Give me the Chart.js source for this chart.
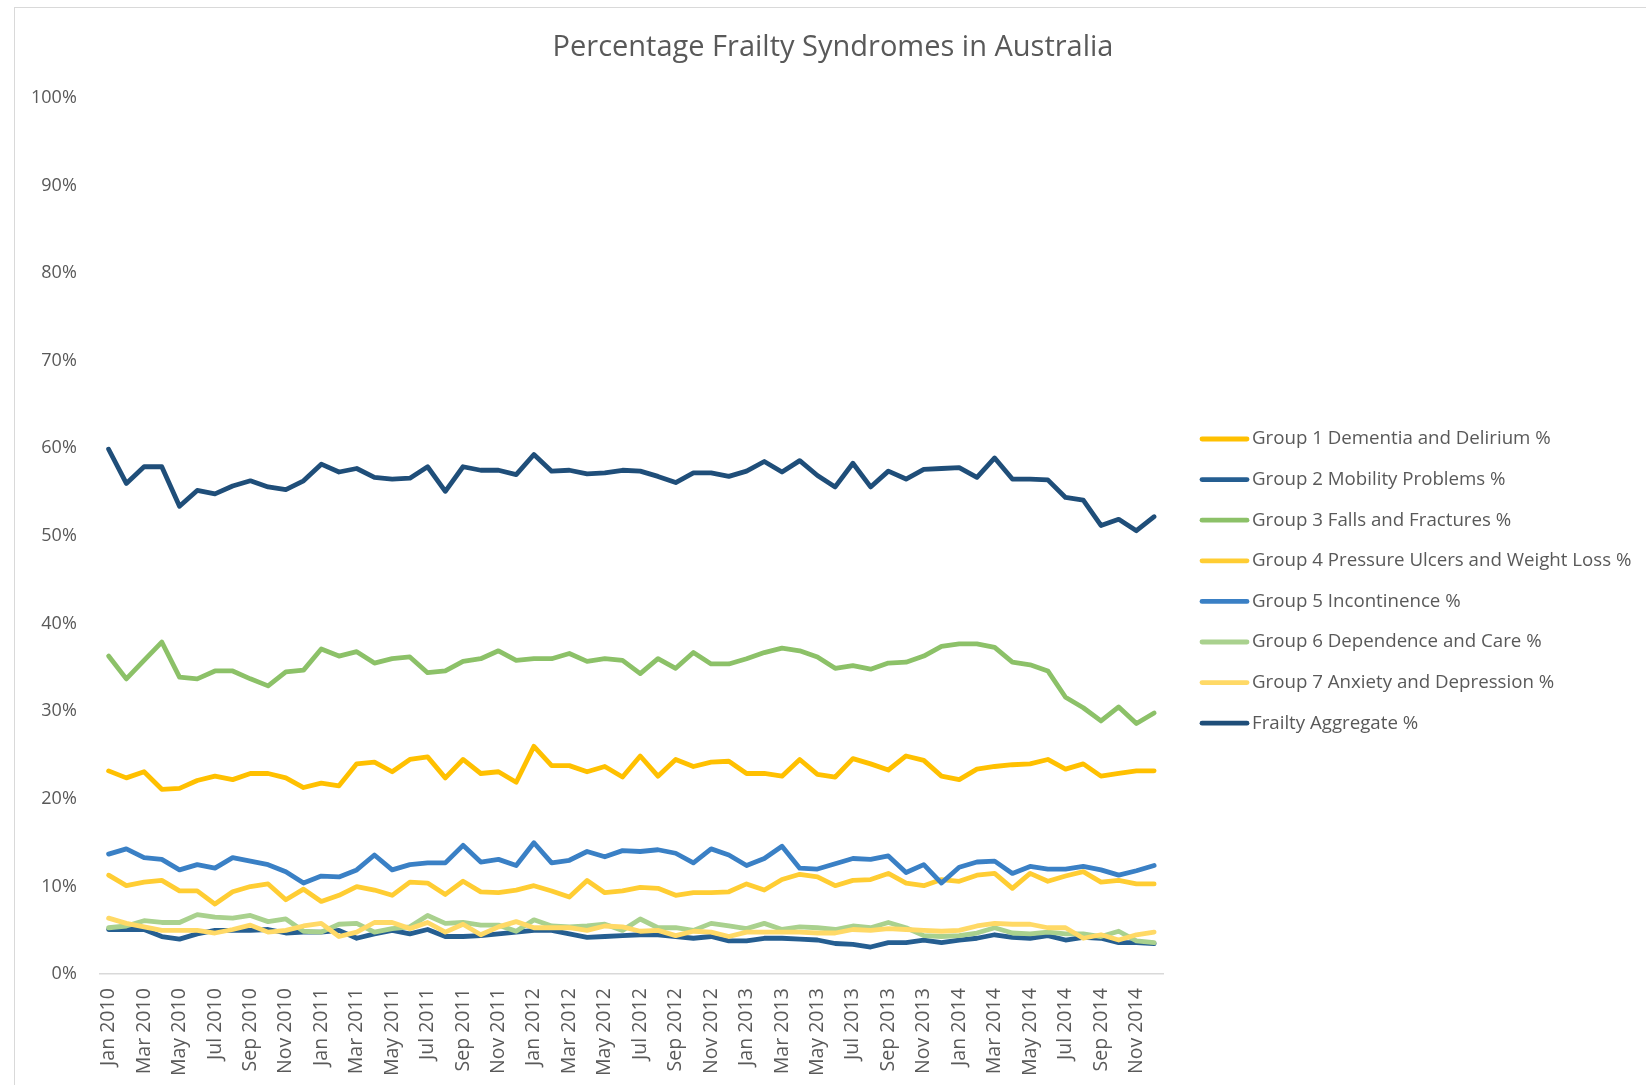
<!DOCTYPE html>
<html>
<head>
<meta charset="utf-8">
<title>Percentage Frailty Syndromes in Australia</title>
<script src="https://cdn.jsdelivr.net/npm/chart.js@4.4.1/dist/chart.umd.min.js"></script>
<style>
  html,body{margin:0;padding:0;background:#fff;overflow:hidden;}
  .frame{position:absolute;left:14px;top:7px;border-left:1px solid #d9d9d9;border-top:1px solid #d9d9d9;}
  canvas{display:block;}
</style>
</head>
<body>
<div class="frame"><canvas id="chart" width="1631" height="1077"></canvas></div>
<script>
/* monthly % of residents per frailty syndrome, Jan 2010 - Dec 2014 */
const MONTHS = ["Jan","Feb","Mar","Apr","May","Jun","Jul","Aug","Sep","Oct","Nov","Dec"];
const YEARS = [2010,2011,2012,2013,2014];
const labels = YEARS.flatMap(y => MONTHS.map(m => m+" "+y));

const yTicks = [0,10,20,30,40,50,60,70,80,90,100];

const group1 = [23.2,22.4,23.1,21.1,21.2,22.1,22.6,22.2,22.9,22.9,
                22.4,21.3,21.8,21.5,24.0,24.2,23.1,24.5,24.8,22.4,
                24.5,22.9,23.1,21.9,26.0,23.8,23.8,23.1,23.7,22.5,
                24.9,22.6,24.5,23.7,24.2,24.3,22.9,22.9,22.6,24.5,
                22.8,22.5,24.6,24.0,23.3,24.9,24.4,22.6,22.2,23.4,
                23.7,23.9,24.0,24.5,23.4,24.0,22.6,22.9,23.2,23.2];
const group2 = [5.1,5.1,5.1,4.3,4.0,4.6,5.0,5.0,5.0,5.1,
                4.7,4.8,4.8,5.0,4.1,4.6,5.0,4.6,5.1,4.3,
                4.3,4.4,4.6,4.8,5.0,5.0,4.6,4.2,4.3,4.4,
                4.5,4.5,4.3,4.1,4.3,3.8,3.8,4.1,4.1,4.0,
                3.9,3.5,3.4,3.1,3.6,3.6,3.9,3.6,3.9,4.1,
                4.5,4.2,4.1,4.4,3.9,4.2,4.1,3.6,3.6,3.5];
const group3 = [36.3,33.7,35.8,37.9,33.9,33.7,34.6,34.6,33.7,32.9,
                34.5,34.7,37.1,36.3,36.8,35.5,36.0,36.2,34.4,34.6,
                35.7,36.0,36.9,35.8,36.0,36.0,36.6,35.7,36.0,35.8,
                34.3,36.0,34.9,36.7,35.4,35.4,36.0,36.7,37.2,36.9,
                36.2,34.9,35.2,34.8,35.5,35.6,36.3,37.4,37.7,37.7,
                37.3,35.6,35.3,34.6,31.6,30.4,28.9,30.5,28.6,29.8];
const group4 = [11.3,10.1,10.5,10.7,9.5,9.5,8.0,9.4,10.0,10.3,
                8.5,9.7,8.3,9.0,10.0,9.6,9.0,10.5,10.4,9.1,
                10.6,9.4,9.3,9.6,10.1,9.5,8.8,10.7,9.3,9.5,
                9.9,9.8,9.0,9.3,9.3,9.4,10.3,9.6,10.8,11.4,
                11.1,10.1,10.7,10.8,11.5,10.4,10.1,10.8,10.6,11.3,
                11.5,9.8,11.5,10.6,11.2,11.7,10.5,10.7,10.3,10.3];
const group5 = [13.7,14.3,13.3,13.1,11.9,12.5,12.1,13.3,12.9,12.5,
                11.7,10.4,11.2,11.1,11.9,13.6,11.9,12.5,12.7,12.7,
                14.7,12.8,13.1,12.4,15.0,12.7,13.0,14.0,13.4,14.1,
                14.0,14.2,13.8,12.7,14.3,13.6,12.4,13.2,14.6,12.1,
                12.0,12.6,13.2,13.1,13.5,11.6,12.5,10.4,12.2,12.8,
                12.9,11.5,12.3,12.0,12.0,12.3,11.9,11.3,11.8,12.4];
const group6 = [5.3,5.5,6.1,5.9,5.9,6.8,6.5,6.4,6.7,6.0,
                6.3,4.9,4.8,5.7,5.8,4.8,5.2,5.4,6.7,5.8,
                5.9,5.6,5.6,4.9,6.2,5.5,5.4,5.5,5.7,5.0,
                6.3,5.3,5.3,5.0,5.8,5.5,5.2,5.8,5.1,5.4,
                5.3,5.1,5.5,5.3,5.9,5.3,4.4,4.3,4.4,4.7,
                5.3,4.7,4.6,4.8,4.6,4.6,4.3,4.9,3.8,3.6];
const group7 = [6.4,5.8,5.4,5.0,5.0,5.0,4.7,5.1,5.6,4.8,
                5.0,5.5,5.8,4.3,4.8,5.9,5.9,5.2,5.9,4.8,
                5.7,4.5,5.4,6.0,5.3,5.3,5.3,5.0,5.5,5.4,
                4.9,5.0,4.4,4.9,4.8,4.3,4.8,4.8,4.8,4.8,
                4.7,4.7,5.1,5.0,5.2,5.1,5.0,4.9,5.0,5.5,
                5.8,5.7,5.7,5.3,5.3,4.1,4.5,3.9,4.5,4.8];
const aggregate = [59.9,56.0,57.9,57.9,53.4,55.2,54.8,55.7,56.3,55.6,
                   55.3,56.3,58.2,57.3,57.7,56.7,56.5,56.6,57.9,55.1,
                   57.9,57.5,57.5,57.0,59.3,57.4,57.5,57.1,57.2,57.5,
                   57.4,56.8,56.1,57.2,57.2,56.8,57.4,58.5,57.3,58.6,
                   56.9,55.6,58.3,55.6,57.4,56.5,57.6,57.7,57.8,56.7,
                   58.9,56.5,56.5,56.4,54.4,54.1,51.2,51.9,50.6,52.2];

const seriesNames = ["Group 1 Dementia and Delirium %","Group 2 Mobility Problems %","Group 3 Falls and Fractures %",
  "Group 4 Pressure Ulcers and Weight Loss %","Group 5 Incontinence %","Group 6 Dependence and Care %",
  "Group 7 Anxiety and Depression %","Frailty Aggregate %"];
const seriesData = [group1,group2,group3,group4,group5,group6,group7,aggregate];
const seriesColors = ["#FFC000","#255E91","#8CC168","#FFCD33","#3A80C5","#A9D18E","#FFD966","#1F4E79"];

const FONT = "'Open Sans', sans-serif";
const GREY = "#595959";

const datasets = seriesData.map((d,i)=>({
  label: seriesNames[i],
  data: d,
  borderColor: seriesColors[i],
  backgroundColor: seriesColors[i],
  borderWidth: 4.8,
  pointRadius: 0,
  pointHoverRadius: 0,
  tension: 0,
  fill: false,
  borderJoinStyle: "round",
  borderCapStyle: "round",
  order: seriesData.length-1-i   // later series on top, like the original
}));

// the built-in legend gets squeezed on the right, so draw the list ourselves
const sideLegend = {
  id: "sideLegend",
  afterDraw(chart){
    const ctx = chart.ctx;
    const x0 = chart.chartArea.right + 37, y0 = 431, step = 40.6;
    ctx.save();
    ctx.font = "18.7px " + FONT;
    ctx.textBaseline = "middle";
    ctx.lineCap = "round";
    chart.data.datasets.forEach((ds,i)=>{
      const y = y0 + i*step;
      ctx.strokeStyle = ds.borderColor;
      ctx.lineWidth = 4.8;
      ctx.beginPath(); ctx.moveTo(x0+2, y); ctx.lineTo(x0+47, y); ctx.stroke();
      ctx.fillStyle = GREY;
      ctx.fillText(ds.label, x0+52, y);
    });
    ctx.restore();
  }
};

new Chart(document.getElementById("chart"), {
  type: "line",
  data: {labels, datasets},
  plugins: [sideLegend],
  options: {
    responsive: false,
    animation: false,
    layout: {padding: {left: -7, right: -12, top: 0, bottom: -5}},
    scales: {
      x: {
        offset: true,
        grid: {display: false, drawTicks: false},
        border: {display: true, color: "#d9d9d9", width: 1.5},
        ticks: {
          autoSkip: false, minRotation: 90, maxRotation: 90, padding: 14,
          color: GREY, font: {family: FONT, size: 19.5},
          callback: (v,i) => i%2===0 ? labels[i] : ""
        }
      },
      y: {
        min: 0, max: 100,
        grid: {display: false, drawTicks: false},
        border: {display: false},
        afterBuildTicks: s => { s.ticks = yTicks.map(v=>({value:v})); },
        ticks: {padding: 23, color: GREY, font: {family: FONT, size: 18}, callback: v => v+"%"}
      },
      // empty right-hand strip that keeps room for the legend list
      legendSpace: {
        position: "right", display: true,
        grid: {display: false, drawTicks: false}, border: {display: false},
        ticks: {display: false},
        afterFit: s => { s.width = 495; }
      }
    },
    plugins: {
      title: {
        display: true, text: "Percentage Frailty Syndromes in Australia",
        color: GREY, font: {family: FONT, size: 29, weight: "normal"},
        padding: {top: 22, bottom: 33}
      },
      legend: {display: false},
      tooltip: {enabled: false}
    }
  }
});
</script>
</body>
</html>
